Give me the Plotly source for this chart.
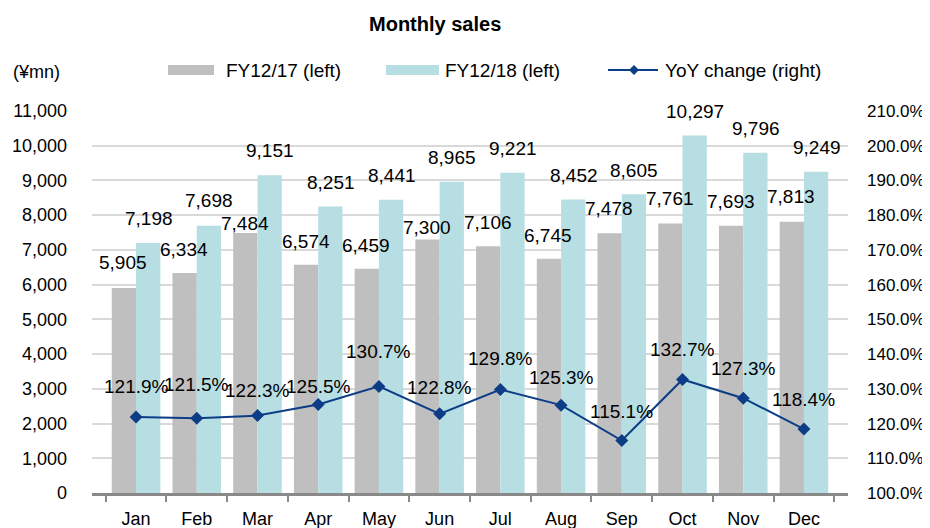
import plotly.graph_objects as go

months = ["Jan", "Feb", "Mar", "Apr", "May", "Jun", "Jul", "Aug", "Sep", "Oct", "Nov", "Dec"]
fy17 = [5905, 6334, 7484, 6574, 6459, 7300, 7106, 6745, 7478, 7761, 7693, 7813]
fy18 = [7198, 7698, 9151, 8251, 8441, 8965, 9221, 8452, 8605, 10297, 9796, 9249]
yoy = [121.9, 121.5, 122.3, 125.5, 130.7, 122.8, 129.8, 125.3, 115.1, 132.7, 127.3, 118.4]

# label vertical offsets (px) – styling only
fy17_label_dy = [25, 24, 10, 23, 23, 12, 24, 23, 25, 25, 24, 25]
fy18_label_dy = [25, 25, 25, 24, 24, 24, 24, 24, 24, 24, 24, 24]
yoy_label_dy = [30, 34, 25, 18, 35, 26, 31, 28, 29, 30, 30, 30]

# page has an 8px body margin: the figure is drawn at (8, 8)
OFF = 8
W, H = 930 - OFF, 528 - OFF
PLOT_X0, PLOT_X1, PLOT_Y0, PLOT_Y1 = 92, 848, 111, 493  # page pixels
L = PLOT_X0 - OFF
T = PLOT_Y0 - OFF
R = 930 - PLOT_X1
B = 528 - PLOT_Y1
PW = PLOT_X1 - PLOT_X0
PH = PLOT_Y1 - PLOT_Y0

FONT = "Liberation Sans, Arial, sans-serif"
GRAY = "#bfbfbf"
TEAL = "#b7dfe3"
NAVY = "#0d3d86"
LBL = 19


def px(x):
    return (x - PLOT_X0) / PW


def py(y):
    return (PLOT_Y1 - y) / PH


fig = go.Figure()
fig.add_trace(go.Bar(x=months, y=fy17, name="FY12/17 (left)", marker_color=GRAY,
                     marker_line_width=0, showlegend=False))
fig.add_trace(go.Bar(x=months, y=fy18, name="FY12/18 (left)", marker_color=TEAL,
                     marker_line_width=0, showlegend=False))
fig.add_trace(go.Scatter(x=months, y=yoy, name="YoY change (right)", yaxis="y2",
                         mode="lines+markers", line=dict(color=NAVY, width=2),
                         marker=dict(symbol="diamond", size=10, color=NAVY),
                         showlegend=False))

annotations = []
cat_w = PW / len(months)
bar_off = cat_w * 0.8 / 4
for i, m in enumerate(months):
    annotations.append(dict(x=m, y=fy17[i], xref="x", yref="y", text=f"{fy17[i]:,}",
                            showarrow=False, xshift=-bar_off, yshift=fy17_label_dy[i],
                            yanchor="middle", font=dict(size=LBL, color="black", family=FONT)))
    annotations.append(dict(x=m, y=fy18[i], xref="x", yref="y", text=f"{fy18[i]:,}",
                            showarrow=False, xshift=bar_off, yshift=fy18_label_dy[i],
                            yanchor="middle", font=dict(size=LBL, color="black", family=FONT)))
    annotations.append(dict(x=m, y=yoy[i], xref="x", yref="y2", text=f"{yoy[i]:.1f}%",
                            showarrow=False, yshift=yoy_label_dy[i],
                            yanchor="middle", font=dict(size=LBL, color="black", family=FONT)))

# title and unit
annotations.append(dict(x=px(435), y=py(24), xref="paper", yref="paper", text="<b>Monthly sales</b>",
                        showarrow=False, xanchor="center", yanchor="middle",
                        font=dict(size=20, color="black", family=FONT)))
annotations.append(dict(x=px(11), y=py(72), xref="paper", yref="paper", text="(¥mn)",
                        showarrow=False, xanchor="left", yanchor="middle",
                        font=dict(size=18, color="black", family=FONT)))

# custom legend
shapes = []
legend_items = [
    ("bar", GRAY, 168, 214, 224, "FY12/17 (left)"),
    ("bar", TEAL, 386, 439, 443, "FY12/18 (left)"),
    ("line", NAVY, 608, 658, 663, "YoY change (right)"),
]
ly = 70
for kind, col, x0, x1, tx, label in legend_items:
    if kind == "bar":
        shapes.append(dict(type="rect", xref="paper", yref="paper", x0=px(x0), x1=px(x1),
                           y0=py(ly - 5), y1=py(ly + 5), fillcolor=col, line_width=0))
    else:
        shapes.append(dict(type="line", xref="paper", yref="paper", x0=px(x0), x1=px(x1),
                           y0=py(ly), y1=py(ly), line=dict(color=col, width=2)))
        cx = (x0 + x1) / 2 + 1
        d = 5
        path = (f"M {px(cx - d)} {py(ly)} L {px(cx)} {py(ly - d)} "
                f"L {px(cx + d)} {py(ly)} L {px(cx)} {py(ly + d)} Z")
        shapes.append(dict(type="path", xref="paper", yref="paper", path=path,
                           fillcolor=col, line_width=0))
    annotations.append(dict(x=px(tx), y=py(ly), xref="paper", yref="paper", text=label,
                            showarrow=False, xanchor="left", yanchor="middle",
                            font=dict(size=19, color="black", family=FONT)))

fig.update_layout(
    width=W, height=H,
    margin=dict(l=L, r=R, t=T, b=B, pad=0, autoexpand=False),
    paper_bgcolor="white", plot_bgcolor="white",
    font=dict(family=FONT, size=18, color="black"),
    barmode="group", bargap=0.2, bargroupgap=0,
    showlegend=False,
    xaxis=dict(type="category", showline=True, linecolor="#898989", linewidth=3,
               ticks="outside", tickson="boundaries", ticklen=6, tickwidth=2,
               tickcolor="#898989", showgrid=False, tickfont=dict(size=18),
               ticklabelstandoff=7, automargin=False),
    yaxis=dict(range=[0, 11000], dtick=1000, tickformat=",d", showgrid=True,
               gridcolor="#d9d9d9", gridwidth=1.5, zeroline=False, showline=False,
               ticks="", tickfont=dict(size=18), ticklabelstandoff=24, automargin=False),
    yaxis2=dict(range=[100, 210], dtick=10, tickformat=".1f", ticksuffix="%",
                overlaying="y", side="right", showgrid=False, zeroline=False,
                showline=False, ticks="", tickfont=dict(size=17), ticklabelstandoff=18,
                automargin=False),
    annotations=annotations,
    shapes=shapes,
)

fig.write_html("out.html")
